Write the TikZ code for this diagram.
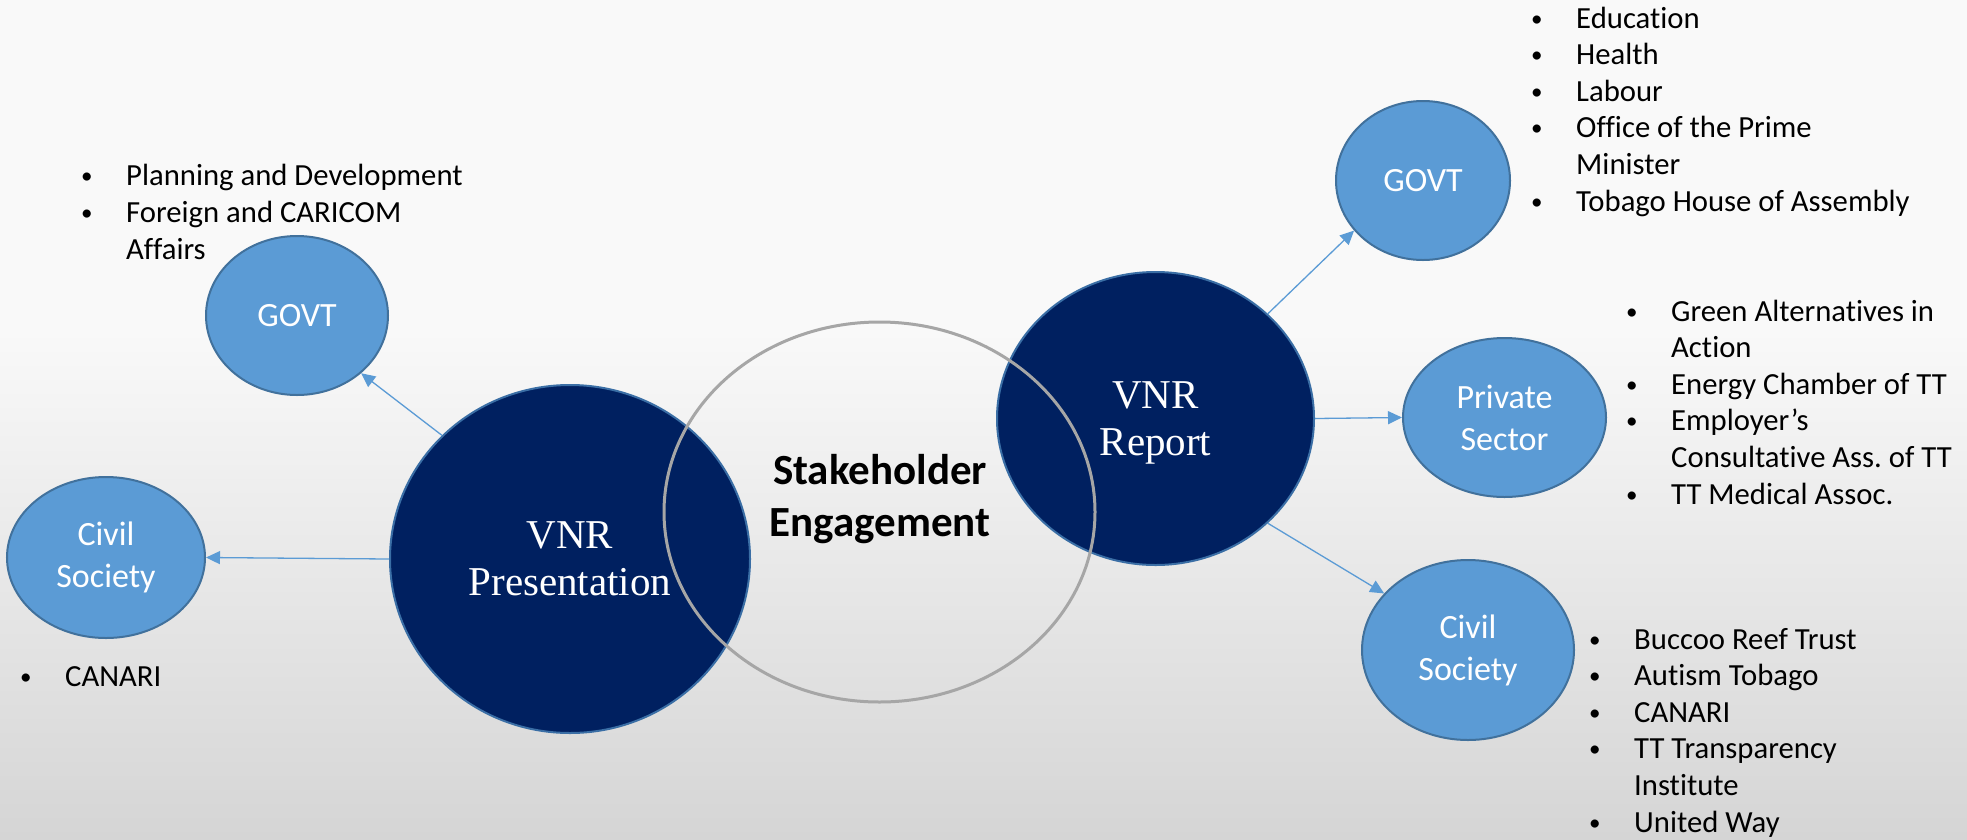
\documentclass[tikz,border=0pt]{standalone}
\usepackage{fontspec}
\usepackage{graphicx}
\setmainfont{Carlito}[Ligatures=NoCommon]
\newfontfamily\vnrFont{Liberation Serif}
\usetikzlibrary{shapes.geometric,arrows.meta}
\definecolor{navyFill}{HTML}{002060}
\definecolor{navyLine}{HTML}{3A6EA5}
\definecolor{skyFill}{HTML}{5B9BD5}
\definecolor{skyLine}{HTML}{41719C}
\definecolor{ringGray}{HTML}{A6A6A6}
\definecolor{bgTop}{HTML}{F9F9F9}
\definecolor{bgBottom}{HTML}{D5D5D5}
\tikzstyle{slide} = [x = 1pt, y = -1pt]
\tikzstyle{bigCircle} = [ellipse, fill=navyFill, draw=navyLine, line width=2pt, inner sep=0pt, text=white, text depth=0pt, align=center, font=\vnrFont\fontsize{41}{47}\selectfont]
\tikzstyle{smallCircle} = [ellipse, fill=skyFill, draw=skyLine, line width=2pt, inner sep=0pt, text=white, align=center, font=\fontsize{34}{42}\selectfont]
\tikzstyle{ring} = [ellipse, draw=ringGray, line width=3pt, inner sep=0pt]
\tikzstyle{linkArrow} = [draw=skyFill, line width=1.3pt, -{Triangle[length=14pt,width=13pt]}]
\tikzstyle{itemList} = [anchor=base west, align=left, inner sep=0pt, font=\fontsize{30.7}{36.6}\selectfont]
\newcommand{\bul}{\llap{\makebox[45pt][l]{\raisebox{0.06em}{\scalebox{0.75}{\textbullet}}}}}
\begin{document}
\begin{tikzpicture}[slide]
  \useasboundingbox (0,0) rectangle (1967,839);
  % background
  \fill[bgTop] (0,0) rectangle (1967,839);
  \shade[top color=bgTop, bottom color=bgBottom] (0,330) rectangle (1967,839);

  % stakeholder groups
  \node[smallCircle, minimum width=182pt, minimum height=159pt] (govtLeft) at (297,315.5) {GOVT};
  \node[smallCircle, minimum width=198pt, minimum height=161pt] (civilLeft) at (106,557.5) {Civil\\Society};
  \node[smallCircle, minimum width=174pt, minimum height=159pt] (govtRight) at (1423,180.5) {GOVT};
  \node[smallCircle, minimum width=203pt, minimum height=159pt] (privRight) at (1504.5,417.5) {Private\\Sector};
  \node[smallCircle, minimum width=212pt, minimum height=180pt] (civilRight) at (1468,650) {Civil\\Society};

  % VNR circles
  \node[bigCircle, minimum width=360pt, minimum height=348pt] (vnrPres) at (570,559) {VNR\\Presentation};
  \node[bigCircle, minimum width=317pt, minimum height=293pt] (vnrRep) at (1155.5,418.5) {VNR\\Report};
  \node[ring, minimum width=431pt, minimum height=380pt] (stake) at (879.5,512) {};
  \node[font=\bfseries\fontsize{43}{52}\selectfont, align=center] (stakeText) at (880,499) {Stakeholder\\Engagement};

  % links
  \draw[linkArrow] (vnrPres.west) -- (civilLeft.east);
  \draw[linkArrow] (vnrPres.136) -- (govtLeft.-42);
  \draw[linkArrow] (vnrRep.43) -- (govtRight.216);
  \draw[linkArrow] (vnrRep.east) -- (privRight.west);
  \draw[linkArrow] (vnrRep.-43) -- (civilRight.146);

  % member lists (anchored at the last line)
  \node[itemList] (govtLeftList) at (126,259) {\bul Planning and Development\\ \bul Foreign and CARICOM\\ Affairs};
  \node[itemList] (civilLeftList) at (65,686) {\bul CANARI};
  \node[itemList] (govtRightList) at (1576,211) {\bul Education\\ \bul Health\\ \bul Labour\\ \bul Office of the Prime\\ Minister\\ \bul Tobago House of Assembly};
  \node[itemList] (privList) at (1671,504) {\bul Green Alternatives in\\ Action\\ \bul Energy Chamber of TT\\ \bul Employer’s\\ Consultative Ass.\ of TT\\ \bul TT Medical Assoc.};
  \node[itemList] (civilRightList) at (1634,832) {\bul Buccoo Reef Trust\\ \bul Autism Tobago\\ \bul CANARI\\ \bul TT Transparency\\ Institute\\ \bul United Way};
\end{tikzpicture}
\end{document}
